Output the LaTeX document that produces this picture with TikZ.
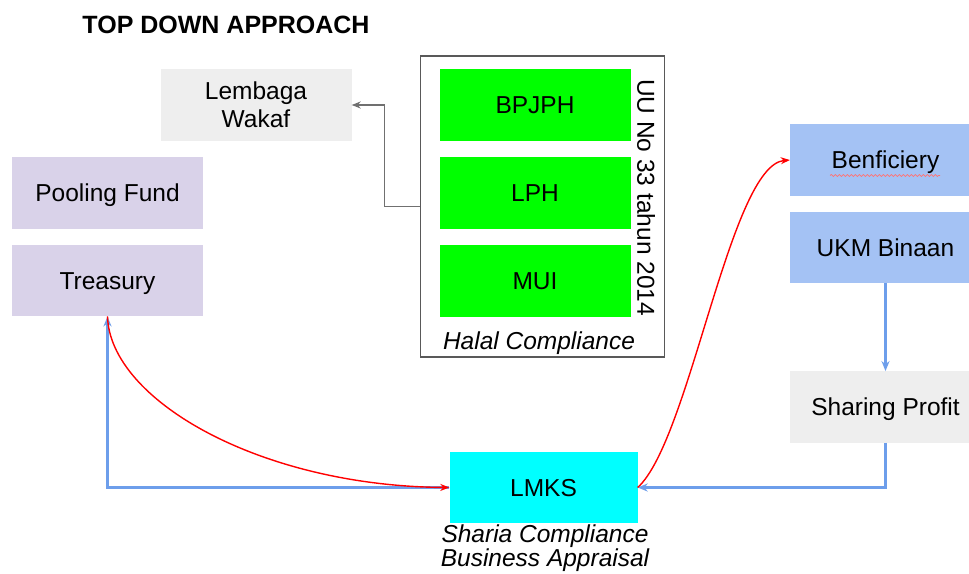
\documentclass[tikz,border=0pt]{standalone}
\usepackage{fontspec}
\setmainfont{Liberation Sans}
\usetikzlibrary{arrows.meta,decorations.pathmorphing,calc}
\definecolor{lav}{HTML}{D9D2E9}
\definecolor{lgray}{HTML}{EEEEEE}
\definecolor{lblue}{HTML}{A4C2F4}
\definecolor{hgreen}{HTML}{00FF00}
\definecolor{hcyan}{HTML}{00FFFF}
\definecolor{cblue}{HTML}{6D9EEB}
\definecolor{cred}{HTML}{FF0000}
\definecolor{cgray}{HTML}{707070}
\definecolor{bordergray}{HTML}{595959}
\tikzset{
  box/.style={minimum width=191pt, minimum height=71.5pt, inner sep=0pt, draw=none, align=center,
    font=\fontsize{24.5}{28}\selectfont, text=black},
  onebox/.style={box, text height=17.5pt, text depth=0pt},
  bluecon/.style={draw=cblue, line width=2.2pt, -{Stealth[length=10pt,width=8pt]}},
  redcon/.style={draw=cred, line width=1.4pt, -{Stealth[length=9pt,width=7pt]}},
  graycon/.style={draw=cgray, line width=1.3pt, -{Stealth[length=9pt,width=7pt]}},
  itlabel/.style={font=\fontsize{24.5}{21}\selectfont\itshape, inner sep=0pt, align=center}
}
\begin{document}
\begin{tikzpicture}[x=1pt,y=-1pt]
\useasboundingbox (0,0) rectangle (969,573);
\fill[white] (0,0) rectangle (969,573);
\clip (0,0) rectangle (969,573);

% title
\node[anchor=base, inner sep=0pt, font=\fontsize{25}{28}\selectfont\bfseries] (title) at (226,33) {TOP DOWN APPROACH};

% left boxes
\node[box, fill=lgray, align=none] (lemb) at (256,105)
  {\raisebox{-3pt}[\height][\depth]{\begin{tabular}{@{}c@{}}Lembaga\\[0.5pt]Wakaf\end{tabular}}};
\node[onebox, fill=lav] (pool) at (107.5,193) {Pooling Fund};
\node[onebox, fill=lav] (treas) at (107.5,280.5) {Treasury};

% halal compliance group
\node[draw=bordergray, line width=1.5pt, minimum width=244pt, minimum height=301pt, inner sep=0pt] (halal) at (542.5,206.5) {};
\node[onebox, fill=hgreen] (bpjph) at (535,105) {BPJPH};
\node[onebox, fill=hgreen] (lph) at (535,193) {LPH};
\node[onebox, fill=hgreen] (mui) at (535,281) {MUI};
\node[rotate=-90, inner sep=0pt, font=\fontsize{24.5}{28}\selectfont] (uu) at (646,197.5) {UU No 33 tahun 2014};
\node[itlabel, anchor=base] (hclabel) at (539,349) {Halal Compliance};

% right boxes
\node[onebox, fill=lblue] (ben) at (885.5,160) {Benficiery};
\node[onebox, fill=lblue] (ukm) at (885.5,247.5) {UKM Binaan};
\node[onebox, fill=lgray] (sp) at (885.5,407) {Sharing Profit};

% LMKS
\node[onebox, fill=hcyan, minimum width=188pt] (lmks) at (543.5,487.5) {LMKS};
\node[itlabel, anchor=base] (sharia) at (545,566) {Sharia Compliance\\Business Appraisal};

% spell-check squiggle
\coordinate (sqA) at (830,175.5);
\coordinate (sqB) at (940,175.5);
\draw[draw=red!55, line width=0.7pt, decorate, decoration={snake, amplitude=1pt, segment length=4pt}] (sqA) -- (sqB);

% connectors
\draw[graycon] (halal.west) -- ++(-35,0) |- (lemb.east);
\draw[bluecon] (ukm.south) -- (sp.north);
\draw[bluecon] (sp.south) |- (lmks.east);
\draw[bluecon] (lmks.west) -| (treas.south);
\draw[redcon] (treas.south) .. controls (110,400) and (260,486) .. (lmks.west);
\draw[redcon] (lmks.east) .. controls (690,440) and (730,165) .. (ben.west);
\end{tikzpicture}
\end{document}
